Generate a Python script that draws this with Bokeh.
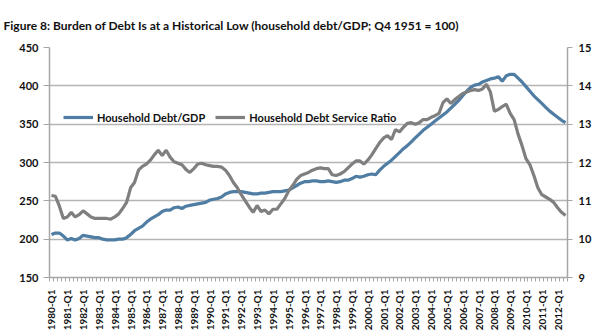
import math
from bokeh.plotting import figure
from bokeh.models import (Range1d, LinearAxis, Legend, LegendItem,
                          FixedTicker, ColumnDataSource)
from bokeh.embed import file_html
from bokeh.resources import INLINE

# ---------------- data ----------------
years = list(range(1980, 2013))
quarters = [f"{y}-Q{q}" for y in years for q in (1, 2, 3, 4)][:131]

debt_gdp = [
    206, 208, 208, 204,   # 1980
    199, 201, 199, 201,   # 1981
    205, 204, 203, 202,   # 1982
    202, 200, 199, 199,   # 1983
    199, 200, 200, 202,   # 1984
    206, 211, 214, 217,   # 1985
    222, 226, 229, 232,   # 1986
    236, 238, 238, 241,   # 1987
    242, 240, 243, 244,   # 1988
    245, 246, 247, 248,   # 1989
    251, 252, 253, 255,   # 1990
    259, 261, 262, 262,   # 1991
    262, 261, 260, 259,   # 1992
    259, 260, 260, 261,   # 1993
    262, 262, 262, 263,   # 1994
    264, 267, 270, 273,   # 1995
    275, 275, 276, 276,   # 1996
    275, 275, 276, 275,   # 1997
    274, 275, 277, 277,   # 1998
    279, 282, 281, 282,   # 1999
    284, 285, 284, 290,   # 2000
    295, 299, 303, 308,   # 2001
    313, 318, 322, 327,   # 2002
    332, 337, 342, 346,   # 2003
    350, 354, 358, 362,   # 2004
    366, 371, 376, 381,   # 2005
    387, 393, 398, 401,   # 2006
    402, 405, 407, 409,   # 2007
    410, 412, 406, 413,   # 2008
    415, 415, 410, 405,   # 2009
    399, 393, 387, 382,   # 2010
    377, 372, 367, 363,   # 2011
    359, 355, 352,        # 2012
]

debt_service = [
    11.14, 11.12, 10.86, 10.54,   # 1980
    10.58, 10.70, 10.58, 10.64,   # 1981
    10.74, 10.66, 10.58, 10.54,   # 1982
    10.54, 10.54, 10.54, 10.52,   # 1983
    10.58, 10.66, 10.80, 10.96,   # 1984
    11.34, 11.48, 11.80, 11.90,   # 1985
    11.96, 12.06, 12.20, 12.32,   # 1986
    12.18, 12.32, 12.14, 12.02,   # 1987
    11.98, 11.94, 11.82, 11.74,   # 1988
    11.84, 11.96, 11.98, 11.94,   # 1989
    11.92, 11.90, 11.90, 11.88,   # 1990
    11.80, 11.66, 11.48, 11.34,   # 1991
    11.16, 11.00, 10.84, 10.70,   # 1992
    10.88, 10.72, 10.76, 10.66,   # 1993
    10.78, 10.78, 10.92, 11.06,   # 1994
    11.26, 11.40, 11.56, 11.66,   # 1995
    11.70, 11.74, 11.80, 11.84,   # 1996
    11.86, 11.84, 11.84, 11.68,   # 1997
    11.66, 11.70, 11.76, 11.86,   # 1998
    11.96, 12.04, 12.04, 11.96,   # 1999
    12.06, 12.20, 12.36, 12.52,   # 2000
    12.64, 12.70, 12.60, 12.86,   # 2001
    12.80, 12.92, 13.02, 13.04,   # 2002
    13.00, 13.04, 13.12, 13.12,   # 2003
    13.18, 13.22, 13.28, 13.56,   # 2004
    13.66, 13.54, 13.64, 13.72,   # 2005
    13.80, 13.84, 13.88, 13.90,   # 2006
    13.88, 13.92, 14.04, 13.84,   # 2007
    13.34, 13.38, 13.46, 13.52,   # 2008
    13.28, 13.12, 12.74, 12.44,   # 2009
    12.10, 11.94, 11.66, 11.34,   # 2010
    11.16, 11.10, 11.04, 10.96,   # 2011
    10.82, 10.70, 10.62,          # 2012
]

left_ticks = [150, 200, 250, 300, 350, 400, 450]
right_ticks = [9, 10, 11, 12, 13, 14, 15]

title_text = "Figure 8: Burden of Debt Is at a Historical Low (household debt/GDP; Q4 1951 = 100)"
series_names = ["Household Debt/GDP", "Household Debt Service Ratio"]

BLUE = "#4f7da3"
GREY = "#7f7f7f"
AXIS = "#a6a6a6"
GRID = "#b5b5b5"
FONT = "Lato"
TXT = "#111111"

# ---------------- figure ----------------
idx = list(range(len(quarters)))
p = figure(width=600, height=336,
           x_range=Range1d(-0.5, len(quarters) - 0.5),
           y_range=Range1d(left_ticks[0], left_ticks[-1]),
           output_backend="svg", toolbar_location=None,
           min_border_left=49, min_border_right=33,
           min_border_top=47, min_border_bottom=59)
p.outline_line_color = None
p.background_fill_color = "white"
p.extra_y_ranges = {"dsr": Range1d(right_ticks[0], right_ticks[-1])}

# title
p.title.text = title_text
p.title.align = "left"
p.title.vertical_align = "top"
p.title.offset = -46
p.title.standoff = 26
p.title.text_font = FONT
p.title.text_font_size = "12px"
p.title.text_font_style = "bold"
p.title.text_color = TXT

src = ColumnDataSource(dict(i=idx, q=quarters, debt=debt_gdp, dsr=debt_service))
r1 = p.line("i", "debt", source=src, line_color=BLUE, line_width=3.2)
r2 = p.line("i", "dsr", source=src, y_range_name="dsr", line_color=GREY, line_width=3.2)

# x axis: label every Q1, small tick at every quarter boundary
q1_pos = [i for i, q in enumerate(quarters) if q.endswith("Q1")]
xa = p.xaxis[0]
xa.ticker = FixedTicker(ticks=q1_pos, minor_ticks=[i - 0.5 for i in range(len(quarters) + 1)])
xa.major_label_overrides = {i: quarters[i] for i in q1_pos}
xa.major_label_orientation = math.pi / 2
xa.major_tick_line_color = None
xa.minor_tick_out = 4
xa.minor_tick_in = 0
xa.minor_tick_line_color = AXIS
xa.axis_line_color = AXIS
xa.axis_line_width = 1.5
xa.major_label_standoff = 6
xa.major_label_text_font = FONT
xa.major_label_text_font_size = "10px"
xa.major_label_text_font_style = "bold"
xa.major_label_text_color = TXT
p.xgrid.visible = False

# left y axis
ya = p.yaxis[0]
ya.ticker = FixedTicker(ticks=left_ticks)
ya.major_tick_out = 6
ya.major_tick_in = 0
ya.minor_tick_line_color = None
ya.axis_line_color = AXIS
ya.axis_line_width = 1.5
ya.major_tick_line_color = AXIS
ya.major_label_standoff = 5
ya.major_label_text_font = FONT
ya.major_label_text_font_size = "11px"
ya.major_label_text_font_style = "bold"
ya.major_label_text_color = TXT
p.ygrid.ticker = FixedTicker(ticks=left_ticks)
p.ygrid.grid_line_color = GRID
p.ygrid.grid_line_width = 1.5

# right y axis
ra = LinearAxis(y_range_name="dsr", ticker=FixedTicker(ticks=right_ticks))
ra.major_tick_out = 5
ra.major_tick_in = 0
ra.minor_tick_line_color = None
ra.axis_line_color = AXIS
ra.axis_line_width = 1.5
ra.major_tick_line_color = AXIS
ra.major_label_standoff = 6
ra.major_label_text_font = FONT
ra.major_label_text_font_size = "11px"
ra.major_label_text_font_style = "bold"
ra.major_label_text_color = TXT
p.add_layout(ra, "right")

# legend
legend = Legend(items=[LegendItem(label=series_names[0], renderers=[r1]),
                       LegendItem(label=series_names[1], renderers=[r2])],
                orientation="horizontal", location=(14, 152),
                border_line_color=None, background_fill_alpha=0,
                padding=0, margin=0, spacing=10, glyph_width=30, glyph_height=16,
                label_standoff=4, label_text_font=FONT, label_text_font_size="11px",
                label_text_font_style="bold", label_text_color=TXT)
p.add_layout(legend)

open("out.html", "w").write(file_html(p, INLINE))
